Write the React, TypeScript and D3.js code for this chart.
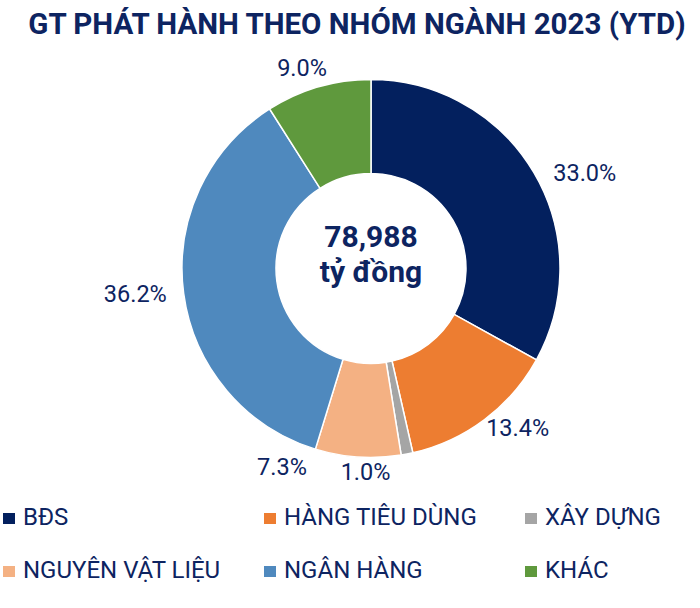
import React, { useEffect } from 'react';
import * as d3 from 'd3';

// nhóm ngành và tỷ trọng (%)
const categories = ['BĐS', 'HÀNG TIÊU DÙNG', 'XÂY DỰNG', 'NGUYÊN VẬT LIỆU', 'NGÂN HÀNG', 'KHÁC'];
const shares = [33.0, 13.4, 1.0, 7.3, 36.2, 9.0];
const colors = ['#03205e', '#ed7d31', '#a5a5a5', '#f4b183', '#4f89be', '#5f993d'];
const totalValue = '78,988';
const totalUnit = 'tỷ đồng';
const title = 'GT PHÁT HÀNH THEO NHÓM NGÀNH 2023 (YTD)';

// chỉnh vị trí nhãn giống Excel (px)
const labelNudge: Record<string, [number, number]> = {
  'BĐS': [10, 16],
  'HÀNG TIÊU DÙNG': [-5, -10],
  'XÂY DỰNG': [-58, -3],
  'NGUYÊN VẬT LIỆU': [-70, -11],
  'NGÂN HÀNG': [-6, -5],
  'KHÁC': [8, 2],
};

const W = 700;
const H = 608;
const cx = 371;
const cy = 268.5;
const outerR = 189;
const innerR = 95;
const labelR = 200;
const navy = '#0d2461';
const font = 'Roboto, sans-serif';

export default function App() {
  useEffect(() => {
    document.body.style.margin = '0';
  }, []);

  const pie = d3.pie<number>().sort(null).value(d => d);
  const arcs = pie(shares);
  const arc = d3.arc<d3.PieArcDatum<number>>().innerRadius(innerR).outerRadius(outerR);

  const clamp = (v: number) => Math.max(-1, Math.min(1, v));

  const labels = arcs.map((a, i) => {
    const theta = (a.startAngle + a.endAngle) / 2;
    const text = shares[i].toFixed(1) + '%';
    const hw = text.length * 6.3;
    const hh = 10;
    const px = labelR * Math.sin(theta);
    const py = -labelR * Math.cos(theta);
    const [nx, ny] = labelNudge[categories[i]] || [0, 0];
    return {
      text,
      x: px + hw * clamp(3 * Math.sin(theta)) + nx,
      y: py - hh * clamp(3 * Math.cos(theta)) + ny,
    };
  });

  // chú thích: 3 cột x 2 hàng
  const legendX = d3.scaleOrdinal<number, number>().domain([0, 1, 2]).range([3, 264, 525]);
  const legendY = d3.scaleOrdinal<number, number>().domain([0, 1]).range([525, 578]);

  return (
    <svg width={W} height={H} style={{ display: 'block', background: '#fff' }} fontFamily={font}>
      <text x={357} y={34} textAnchor="middle" fontSize={29.5} fontWeight="bold" fill={navy}>
        {title}
      </text>

      <g transform={`translate(${cx},${cy})`}>
        {arcs.map((a, i) => (
          <path key={categories[i]} d={arc(a) || ''} fill={colors[i]} stroke="#fff" strokeWidth={1.5} />
        ))}
        {labels.map(l => (
          <text key={l.text} x={l.x} y={l.y} textAnchor="middle" dominantBaseline="central"
            fontSize={23.5} fill={navy}>
            {l.text}
          </text>
        ))}
        <text x={0} y={-22} textAnchor="middle" fontSize={30} fontWeight="bold" fill={navy}>{totalValue}</text>
        <text x={0} y={13} textAnchor="middle" fontSize={30} fontWeight="bold" fill={navy}>{totalUnit}</text>
      </g>

      <g>
        {categories.map((c, i) => {
          const x = legendX(i % 3);
          const y = legendY(Math.floor(i / 3));
          return (
            <g key={c}>
              <rect x={x} y={y - 12} width={12} height={11} fill={colors[i]} />
              <text x={x + 20} y={y} fontSize={24} fill={navy}>{c}</text>
            </g>
          );
        })}
      </g>
    </svg>
  );
}
